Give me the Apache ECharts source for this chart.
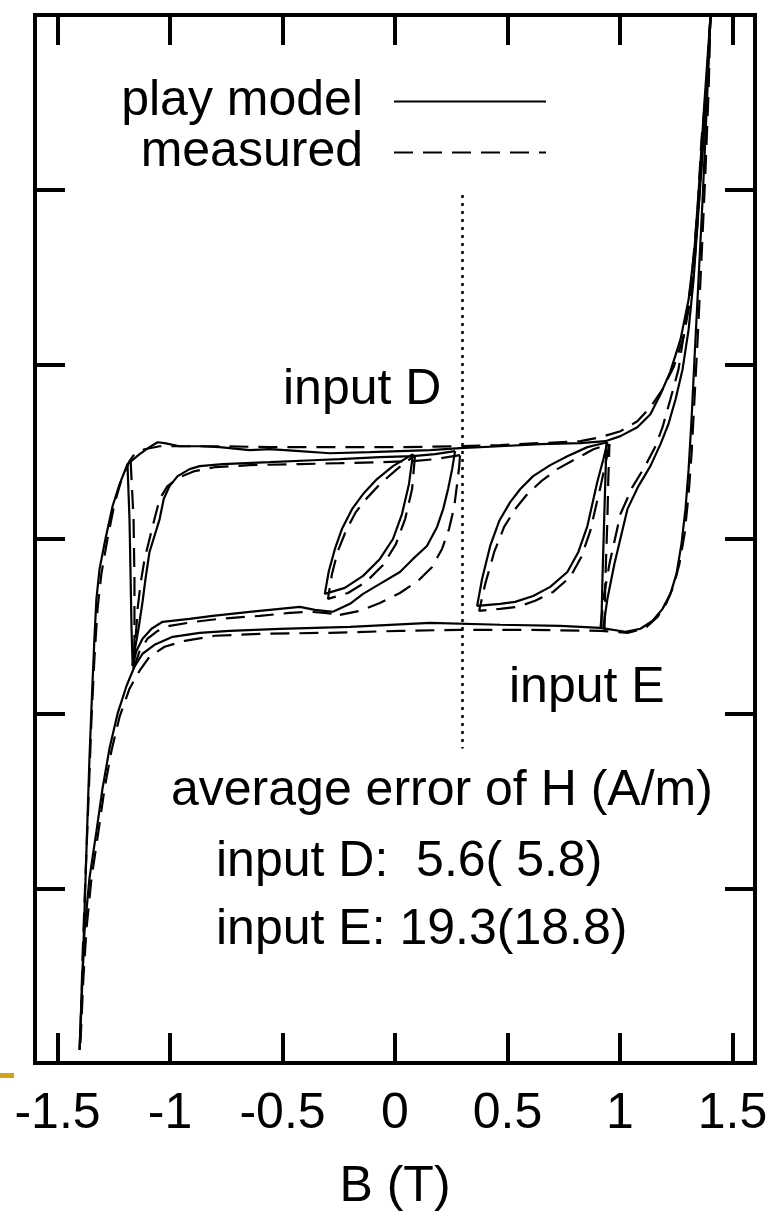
<!DOCTYPE html>
<html>
<head>
<meta charset="utf-8">
<script src="https://cdn.jsdelivr.net/npm/echarts@6/dist/echarts.min.js"></script>
<style>
  html, body { margin: 0; padding: 0; background: #fff; }
  #chart { width: 778px; height: 1217px; }
</style>
</head>
<body>
<div id="chart"></div>
<script>
// Tick values on the B axis (T)
const bTicks = [-1.5, -1, -0.5, 0, 0.5, 1, 1.5];
// H axis range (A/m); ticks only, no labels
const hRange = { min: -300, max: 300, step: 100 };

// ---- play model (B [T], H [A/m]) ----
const modelSatDown = [[1.402,298.9],[1.376,251.4],[1.353,205.7],[1.331,165.7],[1.305,137.1],[1.269,114.3],[1.224,96],[1.180,82.9],[1.135,71.4],[1.077,64],[1.002,58.9],[0.935,56],[0.824,54.9],[0.646,54.3],[0.467,53.1],[0.289,52],[0.156,50.9],[0.022,50.3],[-0.111,49.7],[-0.289,49.1],[-0.423,50.3],[-0.557,51.4],[-0.646,50.9],[-0.779,52.6],[-0.868,53.1],[-0.957,53.1],[-1.024,54.9],[-1.055,55.4],[-1.091,52.6],[-1.135,48.6],[-1.189,42.9],[-1.224,31.4],[-1.255,18.9],[-1.287,0],[-1.313,-17.1],[-1.327,-34.3],[-1.336,-57.1],[-1.345,-84],[-1.358,-125.7],[-1.371,-177.1],[-1.385,-234.3],[-1.402,-292.6]];
const modelSatUp = [[-1.402,-292.6],[-1.389,-251.4],[-1.380,-224.6],[-1.358,-194.3],[-1.327,-167.4],[-1.300,-142.9],[-1.269,-120],[-1.233,-100],[-1.193,-84],[-1.158,-73.1],[-1.122,-65.7],[-1.069,-60.6],[-0.988,-56],[-0.868,-53.7],[-0.735,-52.6],[-0.512,-51.4],[-0.200,-50.3],[0.156,-48],[0.467,-49.1],[0.735,-49.7],[0.913,-50.9],[1.024,-53.1],[1.091,-51.4],[1.144,-46.9],[1.189,-40],[1.224,-31.4],[1.251,-20],[1.273,-2.9],[1.291,17.1],[1.305,40],[1.318,68.6],[1.331,102.9],[1.349,148.6],[1.367,194.3],[1.385,245.7],[1.402,298.9]];
const modelTurnLeft = [[-1.189,42.9],[-1.180,11.4],[-1.175,-22.9],[-1.171,-51.4],[-1.166,-72.6]];
const modelInnerRise = [[-1.166,-72.6],[-1.149,-64],[-1.122,-57.1],[-1.082,-51.4],[-1.033,-47.4],[-0.913,-45.7],[-0.810,-44],[-0.646,-41.7],[-0.512,-40],[-0.423,-38.9],[-0.356,-40.6],[-0.276,-41.7]];
const modelInnerBend = [[-0.276,-41.7],[-0.200,-37.1],[-0.142,-31.4],[-0.067,-25.7],[0.022,-18.9],[0.080,-11.4],[0.142,-4],[0.187,6.9],[0.214,17.1],[0.236,28.6],[0.254,40],[0.267,50.3]];
const modelInnerFall = [[0.267,50.3],[0.178,48.6],[0.080,47.4],[-0.067,46.9],[-0.245,45.7],[-0.365,45.1],[-0.557,44],[-0.766,42.9],[-0.868,41.7],[-0.913,40],[-0.966,36],[-1.002,30.3],[-1.028,22.9],[-1.046,11.4],[-1.069,1.7],[-1.091,-7.4],[-1.109,-22.9],[-1.122,-36],[-1.140,-51.4],[-1.158,-64.6],[-1.166,-72.6]];
const modelLeafD = [[0.080,48.6],[0.062,31.4],[0.031,14.3],[-0.009,0],[-0.067,-11.4],[-0.142,-21.1],[-0.223,-28],[-0.312,-31.4],[-0.294,-18.3],[-0.267,-5.7],[-0.236,5.7],[-0.191,17.1],[-0.142,25.7],[-0.080,34.3],[-0.009,41.7],[0.080,48.6]];
const modelLeafE = [[0.944,55.4],[0.926,45.7],[0.899,32.6],[0.877,20],[0.855,7.4],[0.815,-7.4],[0.766,-18.9],[0.690,-27.4],[0.614,-32.6],[0.534,-36],[0.467,-37.1],[0.365,-38.3],[0.387,-22.9],[0.423,-4],[0.463,10.3],[0.512,21.1],[0.557,28.6],[0.614,36],[0.690,42.3],[0.766,47.4],[0.855,52.6],[0.944,55.4]];
const modelTurnRight = [[0.917,-50.9],[0.922,-22.9],[0.931,17.1],[0.940,55.4]];
const modelRightRise = [[0.926,-50.3],[0.944,-34.3],[0.975,-14.3],[1.033,17.1],[1.082,30.3],[1.135,41.7],[1.180,54.3],[1.215,65.7],[1.247,80],[1.278,97.1],[1.305,120],[1.327,148.6],[1.349,188.6],[1.371,228.6],[1.389,265.7],[1.402,298.9]];

// ---- measured (B [T], H [A/m]) ----
const measSatDown = [[1.402,299],[1.380,251.4],[1.358,205.7],[1.336,165.7],[1.313,137.1],[1.282,115.4],[1.238,98.3],[1.189,85.7],[1.135,75.4],[1.077,67.4],[1.002,61.7],[0.913,58.3],[0.824,56],[0.646,54.9],[0.467,53.7],[0.289,53.1],[0.022,52.6],[-0.289,52.6],[-0.557,52.6],[-0.779,53.1],[-0.957,53.1],[-1.046,53.1],[-1.113,51.4],[-1.158,48.6],[-1.180,44.6],[-1.215,34.3],[-1.247,20],[-1.278,0],[-1.305,-20],[-1.322,-40],[-1.336,-68.6],[-1.349,-102.9],[-1.362,-148.6],[-1.376,-194.3],[-1.389,-240],[-1.398,-285.7]];
const measSatUp = [[-1.398,-288.6],[-1.385,-251.4],[-1.371,-222.9],[-1.349,-194.3],[-1.318,-167.4],[-1.291,-142.9],[-1.260,-121.1],[-1.224,-101.7],[-1.180,-85.7],[-1.135,-75.4],[-1.091,-67.4],[-1.024,-61.7],[-0.935,-58.3],[-0.801,-55.4],[-0.601,-54.3],[-0.289,-53.7],[0.022,-52.6],[0.289,-52],[0.601,-52],[0.913,-52.6],[1.037,-53.7],[1.113,-50.9],[1.167,-44.6],[1.207,-36.6],[1.238,-26.9],[1.264,-14.3],[1.287,2.9],[1.305,25.7],[1.318,48.6],[1.331,80],[1.345,114.3],[1.362,160],[1.380,211.4],[1.394,257.1],[1.402,298.9]];
const measTurnLeft = [[-1.175,44.6],[-1.162,11.4],[-1.158,-22.9],[-1.158,-57.1],[-1.162,-74.3]];
const measInnerRise = [[-1.162,-74.3],[-1.135,-64],[-1.100,-57.1],[-1.055,-52.6],[-1.002,-49.7],[-0.890,-47.4],[-0.779,-45.7],[-0.601,-44],[-0.467,-42.3],[-0.378,-41.7],[-0.312,-42.3],[-0.245,-43.4]];
const measInnerBend = [[-0.245,-43.4],[-0.156,-41.1],[-0.067,-36.6],[0.022,-30.9],[0.102,-24],[0.165,-16],[0.209,-5.7],[0.240,5.7],[0.263,18.3],[0.276,31.4],[0.285,41.1],[0.289,48]];
const measInnerFall = [[0.289,48],[0.178,45.7],[0.080,44.6],[-0.067,44],[-0.245,43.4],[-0.423,42.9],[-0.646,42.3],[-0.801,41.1],[-0.890,38.9],[-0.957,35.4],[-1.011,30.3],[-1.046,22.9],[-1.069,11.4],[-1.091,0],[-1.113,-11.4],[-1.131,-25.7],[-1.144,-40],[-1.153,-57.1],[-1.162,-74.3]];
const measLeafD = [[0.089,48],[0.076,28.6],[0.045,11.4],[0.004,-2.9],[-0.053,-14.9],[-0.129,-24.6],[-0.209,-30.9],[-0.298,-34.3],[-0.280,-20],[-0.254,-6.9],[-0.218,4.6],[-0.174,15.4],[-0.125,23.4],[-0.062,32],[0.009,40],[0.089,48]];
const measLeafE = [[0.953,54.3],[0.935,42.9],[0.913,29.7],[0.890,17.1],[0.868,4.6],[0.828,-10.3],[0.779,-21.7],[0.703,-30.3],[0.623,-35.4],[0.543,-38.9],[0.467,-40],[0.374,-41.1],[0.401,-25.7],[0.441,-7.4],[0.485,6.9],[0.534,17.1],[0.588,25.7],[0.650,33.1],[0.721,40],[0.801,45.7],[0.882,51.4],[0.953,54.3]];
const measTurnRight = [[0.931,-52.6],[0.935,-22.9],[0.944,11.4],[0.948,34.3],[0.953,54.3]];
const measRightRise = [[0.913,-51.4],[0.926,-34.3],[0.953,-14.3],[1.002,14.3],[1.055,29.7],[1.109,41.1],[1.158,53.1],[1.189,64],[1.224,80],[1.260,97.1],[1.287,120],[1.318,148.6],[1.345,188.6],[1.362,228.6],[1.389,265.7],[1.402,298.9]];

// Vertical dotted marker at B = 0.3 T
const markerB = 0.3;
const markerSpan = [197, -120];

const FONT = '"Liberation Sans", Arial, Helvetica, sans-serif';
const FS = 50;

const modelCurves = [modelSatDown, modelSatUp, modelTurnLeft, modelInnerRise, modelInnerBend, modelInnerFall, modelLeafD, modelLeafE, modelTurnRight, modelRightRise];
const measuredCurves = [measSatDown, measSatUp, measTurnLeft, measInnerRise, measInnerBend, measInnerFall, measLeafD, measLeafE, measTurnRight, measRightRise];

const series = [];
modelCurves.forEach(d => series.push({
  type: 'line', name: 'play model', data: d, symbol: 'none', showSymbol: false, silent: true,
  itemStyle: { color: '#000' },
  lineStyle: { color: '#000', width: 2.2, type: 'solid' }
}));
measuredCurves.forEach(d => series.push({
  type: 'line', name: 'measured', data: d, symbol: 'none', showSymbol: false, silent: true,
  itemStyle: { color: '#000' },
  lineStyle: { color: '#000', width: 2.2, type: [19, 10] }
}));
series.push({
  type: 'line', name: 'marker', data: markerSpan.map(h => [markerB, h]),
  symbol: 'none', showSymbol: false, silent: true,
  lineStyle: { color: '#000', width: 2.5, type: [3, 5] }
});

const tickStyle = { inside: true, length: 30, lineStyle: { color: '#000', width: 4 } };
const hiddenLine = { show: false, onZero: false };

const chart = echarts.init(document.getElementById('chart'), null, { renderer: 'canvas' });
chart.setOption({
  animation: false,
  backgroundColor: '#fff',
  grid: { left: 35, right: 23, top: 15, bottom: 152, show: true, borderColor: '#000', borderWidth: 4, backgroundColor: 'transparent' },
  legend: {
    data: ['play model', 'measured'],
    orient: 'vertical', align: 'right',
    right: 231, top: 73, padding: 0, itemGap: -6,
    itemWidth: 152, itemHeight: 14,
    selectedMode: false,
    itemStyle: { opacity: 0 },
    textStyle: { fontSize: FS, fontFamily: FONT, color: '#000', lineHeight: 51, padding: [6, 26, 0, 0] }
  },
  xAxis: [
    {
      type: 'value', min: -1.6, max: 1.6, position: 'bottom',
      name: 'B (T)', nameLocation: 'middle', nameGap: 99,
      nameTextStyle: { fontSize: FS, fontFamily: FONT, color: '#000' },
      axisLine: hiddenLine,
      axisTick: Object.assign({ customValues: bTicks }, tickStyle),
      axisLabel: { customValues: bTicks, fontSize: FS, fontFamily: FONT, color: '#000', margin: 26 },
      splitLine: { show: false }
    },
    {
      type: 'value', min: -1.6, max: 1.6, position: 'top',
      axisLine: hiddenLine,
      axisTick: Object.assign({ customValues: bTicks }, tickStyle),
      axisLabel: { show: false },
      splitLine: { show: false }
    }
  ],
  yAxis: [
    {
      type: 'value', min: hRange.min, max: hRange.max, interval: hRange.step, position: 'left',
      axisLine: hiddenLine, axisTick: tickStyle, axisLabel: { show: false }, splitLine: { show: false }
    },
    {
      type: 'value', min: hRange.min, max: hRange.max, interval: hRange.step, position: 'right',
      axisLine: hiddenLine, axisTick: tickStyle, axisLabel: { show: false }, splitLine: { show: false }
    }
  ],
  graphic: [
    { type: 'text', x: 283, y: 390, style: { text: 'input D', font: FS + 'px ' + FONT, fill: '#000', verticalAlign: 'middle' } },
    { type: 'text', x: 509, y: 688, style: { text: 'input E', font: FS + 'px ' + FONT, fill: '#000', verticalAlign: 'middle' } },
    { type: 'text', x: 171, y: 791, style: { text: 'average error of H (A/m)', font: FS + 'px ' + FONT, fill: '#000', verticalAlign: 'middle' } },
    { type: 'text', x: 216, y: 862, style: { text: 'input D:  5.6( 5.8)', font: FS + 'px ' + FONT, fill: '#000', verticalAlign: 'middle' } },
    { type: 'text', x: 216, y: 930, style: { text: 'input E: 19.3(18.8)', font: FS + 'px ' + FONT, fill: '#000', verticalAlign: 'middle' } },
    { type: 'rect', shape: { x: 0, y: 1073, width: 14, height: 5 }, style: { fill: '#d4a21c' } }
  ],
  series: series
});
</script>
</body>
</html>
